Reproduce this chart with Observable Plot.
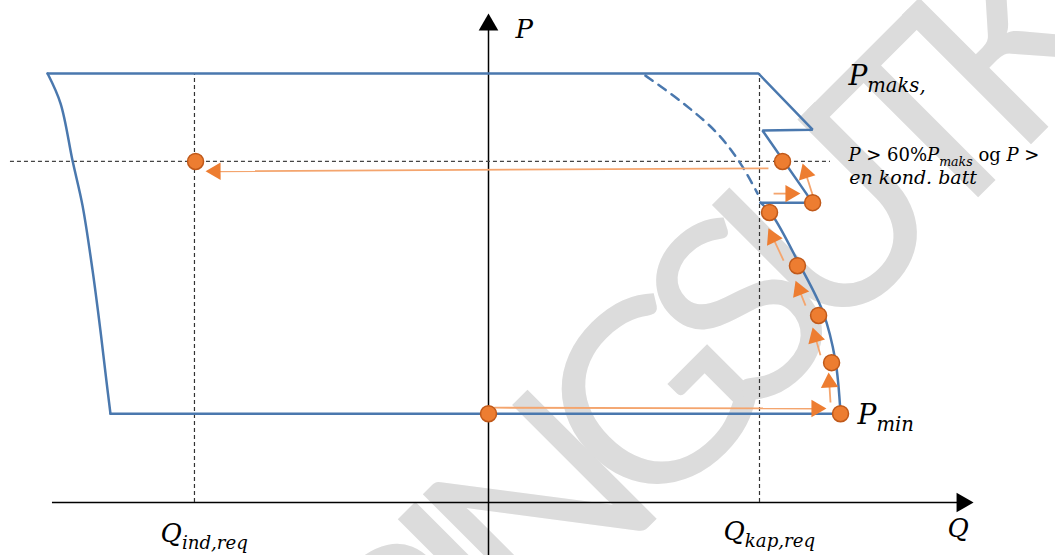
<!DOCTYPE html>
<html><head><meta charset="utf-8">
<script src="https://cdn.jsdelivr.net/npm/d3@7"></script>
<script src="https://cdn.jsdelivr.net/npm/@observablehq/plot@0.6"></script>
<style>body{margin:0;background:#fff}svg{display:block}</style>
</head><body><div id="chart"></div>
<script>
// ---- data (Q in units of Q_kap,req, P in units of P_maks) ----
const Qind = -1.085, Qkap = 1.0, Pmax = 1.0, Pmin = 0.207, P60 = 0.795;
const leftEdge = [[-1.627,1.0],[-1.579,0.930],[-1.535,0.797],[-1.498,0.692],[-1.461,0.541],[-1.432,0.401],[-1.410,0.284],[-1.395,0.207]];
const topEdge = [[-1.627,1.0],[0.996,1.0],[1.196,0.869],[1.011,0.867],[1.196,0.699],[1.004,0.699]];
const capCurve = [[1.004,0.699],[1.048,0.669],[1.144,0.559],[1.236,0.441],[1.280,0.331],[1.299,0.207]];
const bottomEdge = [[-1.395,0.207],[1.299,0.207]];
const dashedCurve = [[0.579,0.995],[0.720,0.930],[0.845,0.860],[0.930,0.790],[0.993,0.720]];
const points = [[-1.081,0.795],[0,0.207],[1.085,0.795],[1.196,0.699],[1.037,0.676],[1.140,0.552],[1.218,0.436],[1.266,0.326],[1.299,0.207]];
// arrows: [q1,p1,q2,p2]
const arrows = [
  [1.033,0.779,-1.044,0.772],
  [0.022,0.221,1.247,0.219],
  [1.262,0.233,1.255,0.303],
  [1.225,0.343,1.196,0.408],
  [1.170,0.459,1.133,0.517],
  [1.089,0.564,1.033,0.639],
  [1.052,0.720,1.151,0.720],
  [1.199,0.711,1.159,0.790]
];
const axisEnds = {xFrom:-1.609, xTo:1.790, yFrom:-0.124, yTo:1.140};
const labels = [
  {t:"Q_{ind,req}", q:-1.210, p:-0.072, size:26},
  {t:"Q_{kap,req}", q:0.867, p:-0.068, size:26},
  {t:"Q", q:1.694, p:-0.061, size:26},
  {t:"P", q:0.100, p:1.103, size:26},
  {t:"P_{maks,}", q:1.328, p:0.995, size:28},
  {t:"P_{min}", q:1.362, p:0.205, size:28},
  {t:"P !{> 60%}P_{maks} !{og} P !{>}", q:1.328, p:0.810, size:18},
  {t:"en kond. batt", q:1.331, p:0.756, size:19}
];
const watermark = [{t:"HØRINGSUTKAST", q:0.845, p:0.373}];

// ---- scales ----
const W = 1055, H = 555, SX = 271, SY = 429, X0 = 488, Y0 = 502;
const xDomain = [-X0/SX, (W-X0)/SX], yDomain = [(Y0-H)/SY, Y0/SY];

const blue = "#4a78ae", orange = "#ed7d31", orangeLine = "#f4a56e", orangeDark = "#c0591a";
const HEAD = 15, AXHEAD = 17; // arrow head lengths (px)
const triR = L => (L/3)*Math.sqrt(3*Math.sqrt(3)/Math.PI);
function headInfo(q1,p1,q2,p2,L){
  const dx=(q2-q1)*SX, dy=-(p2-p1)*SY, len=Math.hypot(dx,dy), ux=dx/len, uy=dy/len;
  const c = 2*L/3;
  return {
    lineEnd:[q2-ux*(L-3)/SX, p2+uy*(L-3)/SY],
    center:[q2-ux*c/SX, p2+uy*c/SY],
    rot: Math.atan2(ux,-uy)*180/Math.PI
  };
}
const arrowData = arrows.map(([q1,p1,q2,p2]) => {const h=headInfo(q1,p1,q2,p2,HEAD); return {q1,p1,q2:h.lineEnd[0],p2:h.lineEnd[1],hq:h.center[0],hp:h.center[1],rot:h.rot};});
const axHeads = [
  (()=>{const h=headInfo(0,0,axisEnds.xTo,0,AXHEAD);return {q:h.center[0],p:h.center[1],rot:h.rot};})(),
  (()=>{const h=headInfo(0,0,0,axisEnds.yTo,AXHEAD);return {q:h.center[0],p:h.center[1],rot:h.rot};})()
];

const serif = "DejaVu Serif";
const sizes = [...new Set(labels.map(d=>d.size))];

const plot = Plot.plot({
  width: W, height: H,
  marginTop:0, marginRight:0, marginBottom:0, marginLeft:0,
  x:{domain:xDomain, axis:null},
  y:{domain:yDomain, axis:null},
  style:{background:"#fff", overflow:"hidden"},
  marks:[
    Plot.text(watermark,{x:"q",y:"p",text:"t",rotate:-45,fontSize:255,fontFamily:"Lato",fontWeight:"normal",fill:"#dcdcdc",textAnchor:"middle"}),
    // axes
    Plot.ruleY([0],{x1:axisEnds.xFrom,x2:axisEnds.xTo-0.03,stroke:"#000",strokeWidth:1.5}),
    Plot.ruleX([0],{y1:axisEnds.yFrom,y2:axisEnds.yTo-0.02,stroke:"#000",strokeWidth:1.5}),
    Plot.dot(axHeads,{x:"q",y:"p",symbol:"triangle",rotate:"rot",r:triR(AXHEAD),fill:"#000",stroke:"none"}),
    // reference dashed lines
    Plot.ruleX([Qind,Qkap],{y1:0,y2:Pmax,stroke:"#333",strokeWidth:1.2,strokeDasharray:"4,3"}),
    Plot.ruleY([P60],{x1:-1.764,x2:1.262,stroke:"#444",strokeWidth:1.2,strokeDasharray:"4,3"}),
    // capability diagram
    Plot.line(leftEdge,{curve:"catmull-rom",stroke:blue,strokeWidth:2.5}),
    Plot.line(topEdge,{stroke:blue,strokeWidth:2.5,strokeLinejoin:"miter"}),
    Plot.line(capCurve,{curve:"catmull-rom",stroke:blue,strokeWidth:2.5}),
    Plot.line(bottomEdge,{stroke:blue,strokeWidth:2.5}),
    Plot.line(dashedCurve,{curve:"catmull-rom",stroke:blue,strokeWidth:2.5,strokeDasharray:"9,7"}),
    // arrows
    Plot.link(arrowData,{x1:"q1",y1:"p1",x2:"q2",y2:"p2",stroke:orangeLine,strokeWidth:1.8}),
    Plot.dot(arrowData,{x:"hq",y:"hp",symbol:"triangle",rotate:"rot",r:triR(HEAD),fill:orange,stroke:"none"}),
    // points
    Plot.dot(points,{r:8,fill:orange,stroke:orangeDark,strokeWidth:1.5}),
    // labels
    ...sizes.map(s => Plot.text(labels.filter(d=>d.size===s),{x:"q",y:"p",text:"t",fontSize:s,fontFamily:serif,fontStyle:"italic",textAnchor:"start",fill:"#000"}))
  ]
});
document.getElementById("chart").appendChild(plot);

// build sub-/upright parts as tspans
const SVGNS = "http://www.w3.org/2000/svg";
plot.querySelectorAll("text").forEach(el => {
  const src = el.textContent;
  if (!/[_!]\{/.test(src)) return;
  const base = parseFloat(getComputedStyle(el).fontSize) || 20;
  while (el.firstChild) el.removeChild(el.firstChild);
  const re = /_\{([^}]*)\}|!\{([^}]*)\}|([^_!]+)/g;
  let m, cur = 0;
  while ((m = re.exec(src))) {
    const ts = document.createElementNS(SVGNS, "tspan");
    let target = 0;
    if (m[1] !== undefined) { ts.textContent = m[1]; ts.setAttribute("font-size", (base*0.7).toFixed(1)); target = base*0.28; }
    else if (m[2] !== undefined) { ts.textContent = m[2]; ts.setAttribute("font-style","normal"); }
    else ts.textContent = m[3];
    if (target !== cur) ts.setAttribute("dy", (target-cur).toFixed(1));
    cur = target;
    el.appendChild(ts);
  }
  el.style.whiteSpace = "pre";
});
// tighten watermark letters
plot.querySelectorAll("text").forEach(el => { if (el.textContent === "HØRINGSUTKAST") el.setAttribute("letter-spacing", "-36"); });
</script></body></html>
